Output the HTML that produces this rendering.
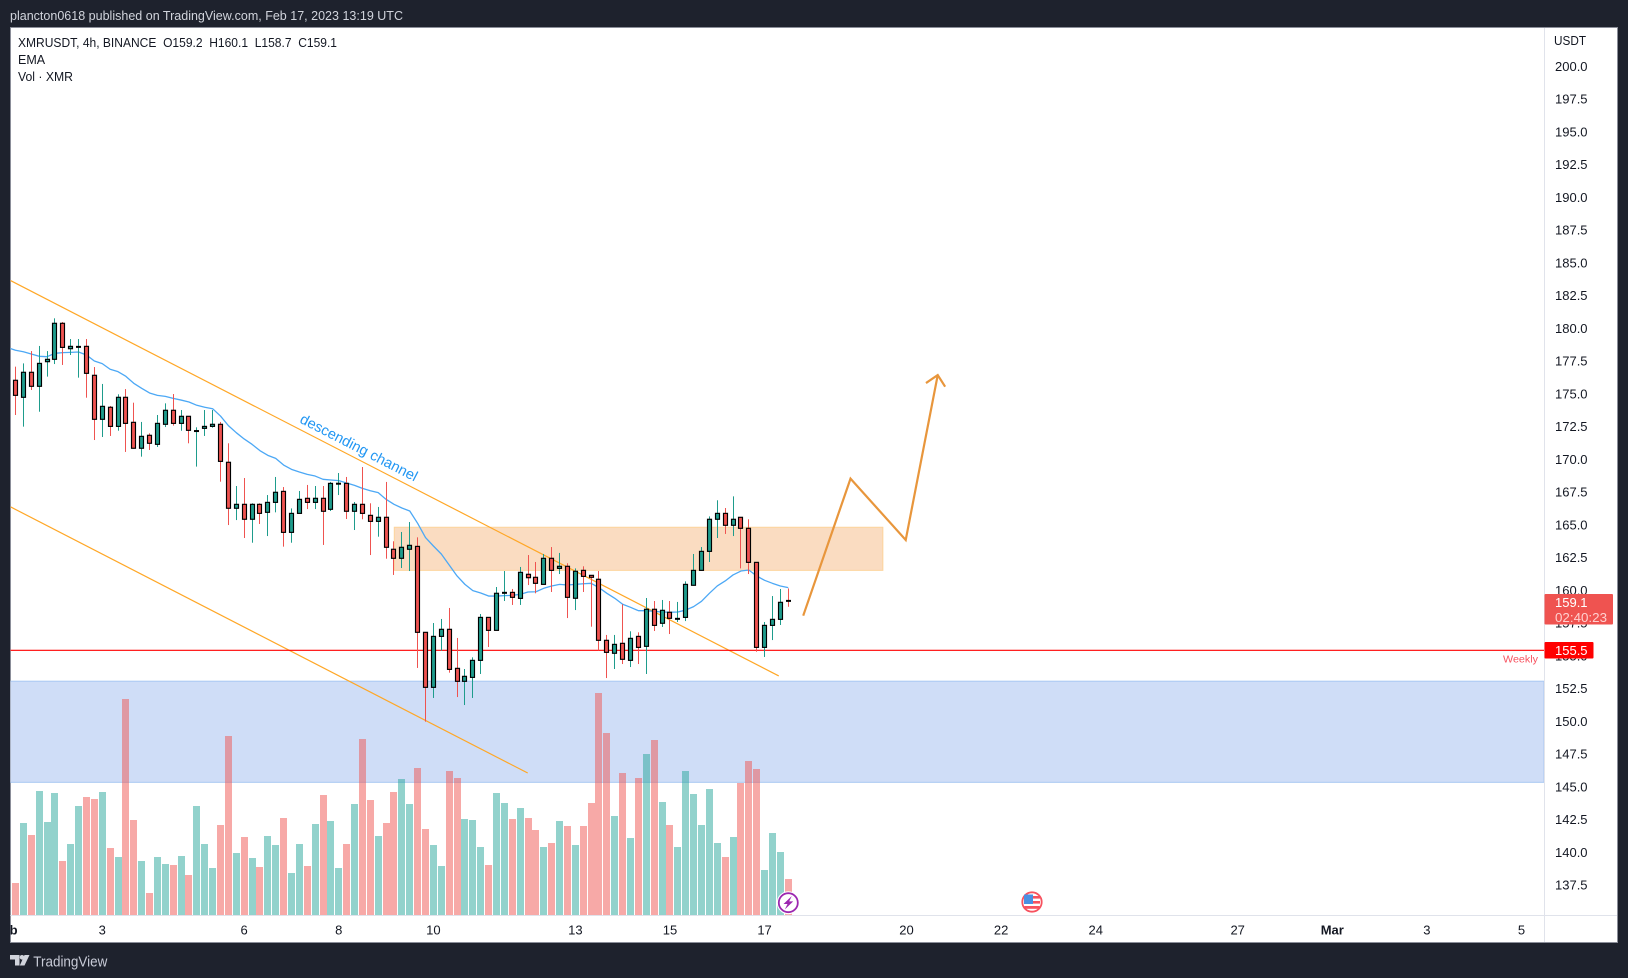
<!DOCTYPE html>
<html lang="en">
<head>
<meta charset="utf-8">
<title>XMRUSDT 4h chart</title>
<style>
html,body{margin:0;padding:0;background:#1e222d;width:1628px;height:978px;overflow:hidden}
svg{display:block;font-family:"Liberation Sans",sans-serif}
text{white-space:pre}
</style>
</head>
<body>
<svg id="root" width="1628" height="978" viewBox="0 0 1628 978" xmlns="http://www.w3.org/2000/svg">
  <defs>
    <clipPath id="paneClip"><rect x="10.5" y="27.5" width="1533.5" height="887.5"/></clipPath>
    <clipPath id="timeClip"><rect x="10.5" y="916" width="1533.5" height="26"/></clipPath>
  </defs>
  <rect x="0" y="0" width="1628" height="978" fill="#1e222d"/>
  <text x="10" y="20" font-size="13" fill="#d1d4dc" textLength="393" lengthAdjust="spacingAndGlyphs">plancton0618 published on TradingView.com, Feb 17, 2023 13:19 UTC</text>
  <rect x="10.5" y="27.5" width="1607" height="915" fill="#ffffff" stroke="#8b8e99" stroke-width="1"/>

  <g id="zones" clip-path="url(#paneClip)"></g>
  <g id="volume" clip-path="url(#paneClip)"></g>
  <g id="lines" clip-path="url(#paneClip)"></g>
  <g id="ema" clip-path="url(#paneClip)"></g>
  <g id="candles" clip-path="url(#paneClip)"></g>
  <g id="overlay" clip-path="url(#paneClip)"></g>

  <text transform="rotate(27.2 359 447.5)" x="359" y="452.5" text-anchor="middle" font-size="14.5" fill="#2196f3" textLength="130" lengthAdjust="spacingAndGlyphs">descending channel</text>

  <line x1="10.5" y1="915.5" x2="1617" y2="915.5" stroke="#e0e3eb"/>
  <line x1="1544.5" y1="28" x2="1544.5" y2="942" stroke="#e0e3eb"/>

  <g font-size="12.5" fill="#131722">
    <text x="18" y="47" textLength="319" lengthAdjust="spacingAndGlyphs">XMRUSDT, 4h, BINANCE  O159.2  H160.1  L158.7  C159.1</text>
    <text x="18" y="64">EMA</text>
    <text x="18" y="81" textLength="55" lengthAdjust="spacingAndGlyphs">Vol · XMR</text>
  </g>

  <g id="priceAxis" font-size="13" fill="#131722"></g>
  <text x="1554" y="45" font-size="13" fill="#131722" textLength="32" lengthAdjust="spacingAndGlyphs">USDT</text>
  <g id="timeAxis" font-size="13" fill="#131722" clip-path="url(#timeClip)"></g>

  <g>
    <rect x="1544.5" y="594" width="68.5" height="30.5" rx="1" fill="#ef5350"/>
    <text x="1555" y="607" font-size="13" fill="#ffffff">159.1</text>
    <text x="1555" y="622" font-size="13" fill="#ffd0cf" textLength="52" lengthAdjust="spacingAndGlyphs">02:40:23</text>
  </g>
  <g>
    <rect x="1544.5" y="642" width="49" height="16.5" rx="1" fill="#ff0000"/>
    <text x="1555" y="655" font-size="13" fill="#ffffff">155.5</text>
  </g>
  <text x="1503" y="662.5" font-size="10.5" fill="#f7525f" textLength="35" lengthAdjust="spacingAndGlyphs">Weekly</text>

  <g>
    <circle cx="788.3" cy="902.7" r="11.5" fill="#ffffff"/>
    <circle cx="788.3" cy="902.7" r="9.5" fill="#ffffff" stroke="#9c27b0" stroke-width="1.8"/>
    <polygon points="791.8,896 783.5,904 787.5,904 784.8,909.5 793.2,901.4 789.2,901.4" fill="#9c27b0"/>
  </g>
  <g>
    <circle cx="1032" cy="902" r="11.5" fill="#ffffff"/>
    <circle cx="1032" cy="902" r="9.7" fill="#ffffff" stroke="#f7525f" stroke-width="1.8"/>
    <rect x="1024" y="896" width="16" height="2.6" fill="#f7525f"/>
    <rect x="1024" y="901" width="16" height="2.6" fill="#f7525f"/>
    <rect x="1024.5" y="906" width="15" height="2.8" fill="#f7525f"/>
    <rect x="1024" y="894.5" width="9" height="9.5" fill="#4a90e2"/>
  </g>

  <g>
    <polygon points="10,955 19.5,955 19.5,965.5 15,965.5 15,959.5 10,959.5" fill="#d1d4dc"/>
    <circle cx="22" cy="957.3" r="2.3" fill="#d1d4dc"/>
    <polygon points="24.5,955 29.5,955 24.5,965.5 19.8,965.5" fill="#d1d4dc"/>
    <text x="33.3" y="966.5" font-size="15" fill="#c8cbd7" textLength="74" lengthAdjust="spacingAndGlyphs">TradingView</text>
  </g>
</svg>

<script>
// ---- Candle data (XMRUSDT 4h) ----
var opens = [
175.99,174.69,176.60,175.53,177.41,177.59,180.34,178.40,178.50,178.58,
176.37,173.01,173.93,172.47,174.69,172.78,170.80,171.79,171.10,172.63,
173.70,172.70,173.24,172.09,172.32,172.47,172.63,169.73,166.22,166.52,
165.38,166.52,165.91,166.67,167.51,164.38,165.83,166.98,166.67,166.98,
166.14,168.07,168.12,165.99,166.52,165.68,165.22,165.53,163.09,162.40,
163.09,163.31,156.75,152.55,156.44,156.98,154.00,153.01,153.31,154.61,
157.89,156.90,159.73,159.80,159.34,161.18,160.95,160.41,162.40,161.63,
161.79,159.35,161.48,161.10,160.80,156.14,155.15,155.91,154.61,156.44,
155.68,158.51,157.44,158.28,157.74,157.89,160.34,161.48,162.93,165.38,
165.83,164.92,165.53,164.69,162.09,155.60,157.28,157.74,159.20];
var highs = [
177.03,177.28,178.22,178.61,178.22,180.72,180.44,179.14,179.14,179.14,
177.00,175.71,174.03,174.92,175.32,174.28,172.81,171.94,173.34,174.23,
174.94,173.72,173.24,172.40,173.72,173.72,172.81,171.18,167.92,168.53,
166.60,166.60,167.23,168.61,167.84,166.21,167.54,168.00,167.92,167.92,
168.23,168.91,168.61,166.70,169.37,166.60,166.32,168.23,163.70,164.41,
165.17,164.00,156.75,157.46,157.77,158.61,156.32,153.95,154.84,158.15,
157.89,160.21,161.43,160.06,161.74,162.65,162.12,162.73,163.26,162.81,
162.02,161.63,161.79,161.10,161.43,156.55,156.55,158.89,156.83,156.75,
159.37,159.14,159.22,159.14,159.07,160.64,162.73,163.26,165.60,166.83,
166.24,167.13,165.53,165.38,162.09,157.54,159.52,160.06,160.10];
var lows = [
173.34,172.45,175.25,173.59,176.27,177.23,177.16,177.92,176.19,174.66,
171.43,171.66,171.74,172.14,170.52,170.77,170.16,170.67,170.90,172.42,
172.53,172.14,171.18,169.40,171.74,172.37,168.25,164.94,165.32,163.95,
163.59,165.02,164.10,165.91,163.29,163.59,165.83,166.16,166.16,163.42,
166.01,167.23,165.40,164.56,165.38,162.65,164.05,162.37,161.13,161.66,
161.43,154.03,149.93,151.74,155.35,153.67,151.81,151.20,151.74,153.57,
155.63,156.90,159.14,158.84,158.84,160.36,159.73,160.41,159.83,161.20,
157.84,158.45,159.83,157.18,155.38,153.26,153.95,154.33,154.10,154.33,
153.57,156.85,157.16,156.62,157.54,157.61,160.31,161.46,162.12,163.95,
164.26,164.10,161.63,161.20,155.27,154.87,156.16,157.31,158.70];
var closes = [
174.84,176.60,175.53,177.28,177.59,180.34,178.50,178.58,178.58,176.52,
173.01,174.00,172.47,174.69,172.70,170.80,171.71,171.18,172.70,173.70,
172.70,173.24,172.17,172.14,172.47,172.63,169.80,166.22,166.52,165.38,
166.52,165.83,166.67,167.44,164.38,165.83,166.90,166.67,166.98,165.99,
168.12,168.12,165.99,166.52,165.83,165.22,165.53,163.24,162.40,163.24,
163.39,156.75,152.55,156.44,156.98,153.92,153.01,153.39,154.61,157.89,
156.90,159.73,159.80,159.42,161.33,160.92,160.49,162.40,161.48,161.79,
159.42,161.41,161.02,160.95,156.14,155.22,155.83,154.69,156.29,155.60,
158.51,157.28,158.43,157.82,157.82,160.41,161.48,162.93,165.38,165.83,
164.92,165.38,164.69,162.09,155.60,157.28,157.74,159.04,159.10];

// Volume per bar (relative units)
var volumes = [
96,276,240,372,279,366,162,213,327,354,
348,369,201,174,648,285,162,66,174,153,
150,177,120,327,213,141,270,537,186,234,
171,144,237,210,291,126,213,147,273,360,
282,141,213,333,528,345,237,276,369,408,
333,441,258,210,147,432,411,288,285,204,
150,366,336,288,321,291,255,204,216,282,
267,210,267,336,666,546,297,426,231,411,
483,525,339,270,204,432,363,270,378,216,
174,234,396,462,438,135,246,189,108];

// EMA values; first value belongs to the bar just before the visible window
var emaValues = [
178.48,178.28,178.17,178.00,177.82,177.79,178.05,178.10,178.12,178.15,
177.92,177.46,177.26,176.83,176.65,176.29,175.76,175.38,175.02,174.84,
174.76,174.61,174.48,174.33,174.08,173.93,173.82,173.26,172.53,171.99,
171.51,171.10,170.62,170.26,170.03,169.52,169.19,168.99,168.81,168.68,
168.43,168.38,168.33,168.15,167.97,167.74,167.56,167.41,166.90,166.52,
166.24,166.01,165.07,163.98,163.34,162.73,161.89,161.05,160.41,159.93,
159.75,159.52,159.52,159.55,159.57,159.65,159.83,159.85,160.11,160.29,
160.41,160.36,160.41,160.46,160.49,160.16,159.73,159.35,158.89,158.66,
158.40,158.40,158.35,158.30,158.28,158.30,158.45,158.71,159.12,159.73,
160.29,160.67,161.13,161.43,161.51,161.05,160.72,160.49,160.29,160.16];

// Axis labels
var priceTicks = [200,197.5,195,192.5,190,187.5,185,182.5,180,177.5,175,172.5,170,167.5,165,162.5,160,157.5,155,152.5,150,147.5,145,142.5,140,137.5];
var timeTickBars = [-1.2,11,29,41,53,71,83,95,113,125,137,155,167,179,191];
var timeTickLabels = ["Feb","3","6","8","10","13","15","17","20","22","24","27","Mar","3","5"];
var boldTimeLabels = ["Feb","Mar"];

// Drawings in bar-index / price terms
var upperChannelBars = [-0.63,96.8];
var upperChannelPrices = [183.60,153.42];
var lowerChannelBars = [-0.61,64.96];
var lowerChannelPrices = [166.32,146.01];
var supplyZoneBars = [48.04,110];
var supplyZonePrices = [164.77,161.48];
var demandZonePrices = [153.02,145.30];
var weeklyLevelPrice = 155.38;
var arrowPathBars = [99.9,105.9,112.9,116.96];
var arrowPathPrices = [158.02,168.48,163.80,176.39];
var arrowHeadBars = [115.47,117.9];
var arrowHeadPrices = [175.78,175.50];

// Axis functions
function xOf(i){return 15.5+7.885*i;}
function yOf(p){return 688+(152.5-p)*13.1;}
function volY(v){return 915-v/3;}

var NS='http://www.w3.org/2000/svg';
function mk(tag,parent,attrs){
  var el=document.createElementNS(NS,tag);
  for(var k in attrs){el.setAttribute(k,attrs[k]);}
  parent.appendChild(el);
  return el;
}
var zones=document.getElementById('zones');
var volG=document.getElementById('volume');
var linesG=document.getElementById('lines');
var emaG=document.getElementById('ema');
var candleG=document.getElementById('candles');
var overlay=document.getElementById('overlay');
var priceAxis=document.getElementById('priceAxis');
var timeAxis=document.getElementById('timeAxis');

// Demand zone (blue)
var demand=mk('rect',zones,{x:10,y:yOf(demandZonePrices[0]),width:1534,height:yOf(demandZonePrices[1])-yOf(demandZonePrices[0]),fill:'#cfddf7',stroke:'#a8c8f2','stroke-width':1});



// Supply zone (orange)
var supply=mk('rect',zones,{x:xOf(supplyZoneBars[0]),y:yOf(supplyZonePrices[0]),width:xOf(supplyZoneBars[1])-xOf(supplyZoneBars[0]),height:yOf(supplyZonePrices[1])-yOf(supplyZonePrices[0]),fill:'#fadcc1',stroke:'#fdd49c','stroke-width':1});



// Volume bars
volumes.forEach(function(v,i){
  var down=closes[i]<opens[i];
  var bx=Math.round(xOf(i)-3.5);
  var b=mk('rect',volG,{x:bx,y:volY(v),width:7,height:915-volY(v),fill:down?'rgba(239,83,80,0.5)':'rgba(38,166,154,0.5)'});
  
  
});

// Trend lines and level
var upperLine=mk('line',linesG,{x1:xOf(upperChannelBars[0]),y1:yOf(upperChannelPrices[0]),x2:xOf(upperChannelBars[1]),y2:yOf(upperChannelPrices[1]),stroke:'#ffa726','stroke-width':1.2});


var lowerLine=mk('line',linesG,{x1:xOf(lowerChannelBars[0]),y1:yOf(lowerChannelPrices[0]),x2:xOf(lowerChannelBars[1]),y2:yOf(lowerChannelPrices[1]),stroke:'#ffa726','stroke-width':1.2});


var weekly=mk('line',linesG,{x1:10,y1:yOf(weeklyLevelPrice),x2:1544,y2:yOf(weeklyLevelPrice),stroke:'#ff0000','stroke-width':1.1});



// EMA line
var emaPts=emaValues.map(function(p,k){return xOf(k-1).toFixed(2)+','+yOf(p).toFixed(2);}).join(' ');
var emaLine=mk('polyline',emaG,{points:emaPts,fill:'none',stroke:'#4ca8f5','stroke-width':1.3,'stroke-linejoin':'round'});



// Candles
opens.forEach(function(o,i){
  var c=closes[i],h=highs[i],l=lows[i];
  var down=c<o;
  var col=down?'#ef5350':'#1e9c8c';
  var px=Math.floor(xOf(i));
  var g=mk('g',candleG,{});
  
  
  mk('rect',g,{x:px,y:yOf(h),width:1,height:Math.max(yOf(l)-yOf(h),1),fill:col});
  var top=yOf(Math.max(o,c)),bot=yOf(Math.min(o,c));
  if(bot-top<1.5){
    mk('rect',g,{x:px-2,y:(top+bot)/2-1,width:5,height:2,fill:'#000000'});
  }else{
    mk('rect',g,{x:px-1.5,y:top,width:4,height:bot-top,fill:col,stroke:'#000000','stroke-width':1.15});
  }
});

// Projected path arrow
var arrowPts=arrowPathBars.map(function(b,k){return xOf(b).toFixed(2)+','+yOf(arrowPathPrices[k]).toFixed(2);}).join(' ');
var arrow=mk('polyline',overlay,{points:arrowPts,fill:'none',stroke:'#e8963c','stroke-width':2.2,'stroke-linejoin':'miter'});


var tipX=xOf(arrowPathBars[3]);
var tipY=yOf(arrowPathPrices[3]);
var head=mk('polyline',overlay,{points:xOf(arrowHeadBars[0])+','+yOf(arrowHeadPrices[0])+' '+tipX+','+tipY+' '+xOf(arrowHeadBars[1])+','+yOf(arrowHeadPrices[1]),fill:'none',stroke:'#e8963c','stroke-width':2.2});



// Price axis labels
priceTicks.forEach(function(p){
  var t=mk('text',priceAxis,{x:1555,y:yOf(p)+5});
  t.textContent=p.toFixed(1);
  
  
});

// Time axis labels
timeTickBars.forEach(function(b,k){
  var label=timeTickLabels[k];
  var t=mk('text',timeAxis,{x:xOf(b),y:934.5,'text-anchor':'middle'});
  t.textContent=label;
  if(boldTimeLabels.indexOf(label)>=0){t.setAttribute('font-weight','bold');}
  
  
});
</script>
</body>
</html>
